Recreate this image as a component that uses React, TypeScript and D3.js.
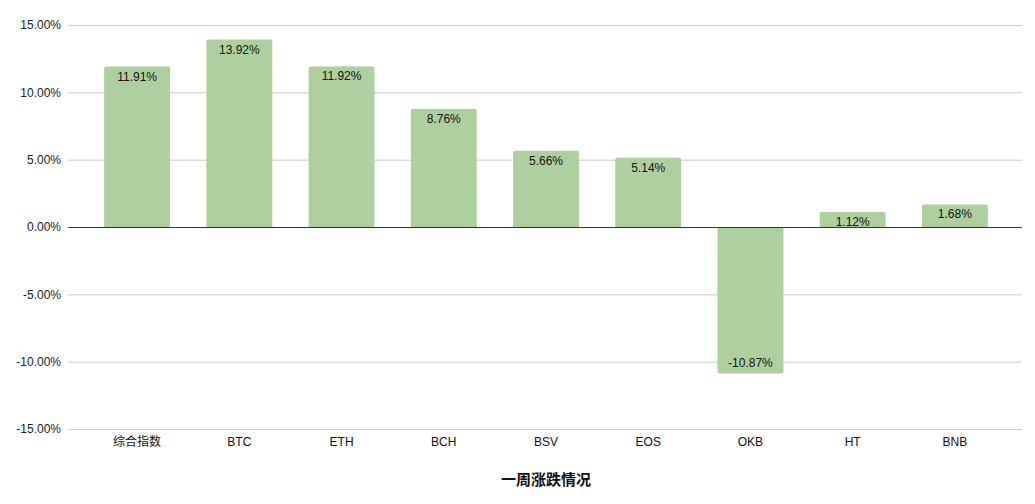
import React, { useEffect, useRef } from 'react';
import * as d3 from 'd3';

const categories = ['综合指数', 'BTC', 'ETH', 'BCH', 'BSV', 'EOS', 'OKB', 'HT', 'BNB'];
const weeklyChange = [11.91, 13.92, 11.92, 8.76, 5.66, 5.14, -10.87, 1.12, 1.68];
const yTicks = [-15, -10, -5, 0, 5, 10, 15];
const title = '一周涨跌情况';

export default function App() {
    const ref = useRef<SVGSVGElement>(null);

    useEffect(() => {
        if (!ref.current) return;
        const svg = d3.select(ref.current);
        svg.selectAll('*').remove();

        const width = 1035;
        const height = 504;
        const font = '"Liberation Sans", Arial, "Noto Sans CJK SC", sans-serif';
        const gridLeft = 68;
        const gridRight = 1022;
        const pct = (v: number) => v.toFixed(2) + '%';

        const x = d3.scaleBand<string>()
            .domain(categories)
            .range([86, 1006])
            .paddingInner(0.355)
            .paddingOuter(0.1775);

        const y = d3.scaleLinear()
            .domain([-15, 15])
            .range([429, 25]);

        svg.attr('width', width).attr('height', height);

        // gridlines
        svg.append('g')
            .selectAll('line')
            .data(yTicks.filter(t => t !== 0))
            .enter()
            .append('line')
            .attr('x1', gridLeft)
            .attr('x2', gridRight)
            .attr('y1', d => y(d) + 0.5)
            .attr('y2', d => y(d) + 0.5)
            .attr('stroke', '#cccccc')
            .attr('stroke-width', 1);

        // y tick labels
        svg.append('g')
            .selectAll('text')
            .data(yTicks)
            .enter()
            .append('text')
            .attr('x', 61)
            .attr('y', d => y(d))
            .attr('dy', '0.35em')
            .attr('text-anchor', 'end')
            .attr('font-family', font)
            .attr('font-size', 12)
            .attr('fill', '#222')
            .text(d => pct(d));

        const data = categories.map((c, i) => ({ name: c, value: weeklyChange[i] }));
        const r = 2;

        // bars with slightly rounded outer end
        svg.append('g')
            .selectAll('path')
            .data(data)
            .enter()
            .append('path')
            .attr('fill', '#aed09e')
            .attr('d', d => {
                const x0 = x(d.name)!;
                const x1 = x0 + x.bandwidth();
                const y0 = y(0);
                const y1 = y(d.value);
                if (d.value >= 0) {
                    return `M${x0},${y0}V${y1 + r}Q${x0},${y1} ${x0 + r},${y1}H${x1 - r}Q${x1},${y1} ${x1},${y1 + r}V${y0}Z`;
                }
                return `M${x0},${y0}V${y1 - r}Q${x0},${y1} ${x0 + r},${y1}H${x1 - r}Q${x1},${y1} ${x1},${y1 - r}V${y0}Z`;
            });

        // zero line
        svg.append('line')
            .attr('x1', gridLeft)
            .attr('x2', gridRight)
            .attr('y1', y(0) + 0.5)
            .attr('y2', y(0) + 0.5)
            .attr('stroke', '#333')
            .attr('stroke-width', 1);

        // value labels
        svg.append('g')
            .selectAll('text')
            .data(data)
            .enter()
            .append('text')
            .attr('x', d => x(d.name)! + x.bandwidth() / 2)
            .attr('y', d => d.value >= 0 ? y(d.value) + 14 : y(d.value) - 6)
            .attr('text-anchor', 'middle')
            .attr('font-family', font)
            .attr('font-size', 12)
            .attr('fill', '#111')
            .text(d => pct(d.value));

        // category labels
        svg.append('g')
            .selectAll('text')
            .data(categories)
            .enter()
            .append('text')
            .attr('x', d => x(d)! + x.bandwidth() / 2)
            .attr('y', 446)
            .attr('text-anchor', 'middle')
            .attr('font-family', font)
            .attr('font-size', 12)
            .attr('fill', '#111')
            .text(d => d);

        svg.append('text')
            .attr('x', (x.range()[0] + x.range()[1]) / 2)
            .attr('y', 485)
            .attr('text-anchor', 'middle')
            .attr('font-family', font)
            .attr('font-size', 15)
            .attr('font-weight', 'bold')
            .attr('fill', '#111')
            .text(title);
    }, []);

    return <svg ref={ref} style={{ position: 'absolute', left: 0, top: 0 }} />;
}
